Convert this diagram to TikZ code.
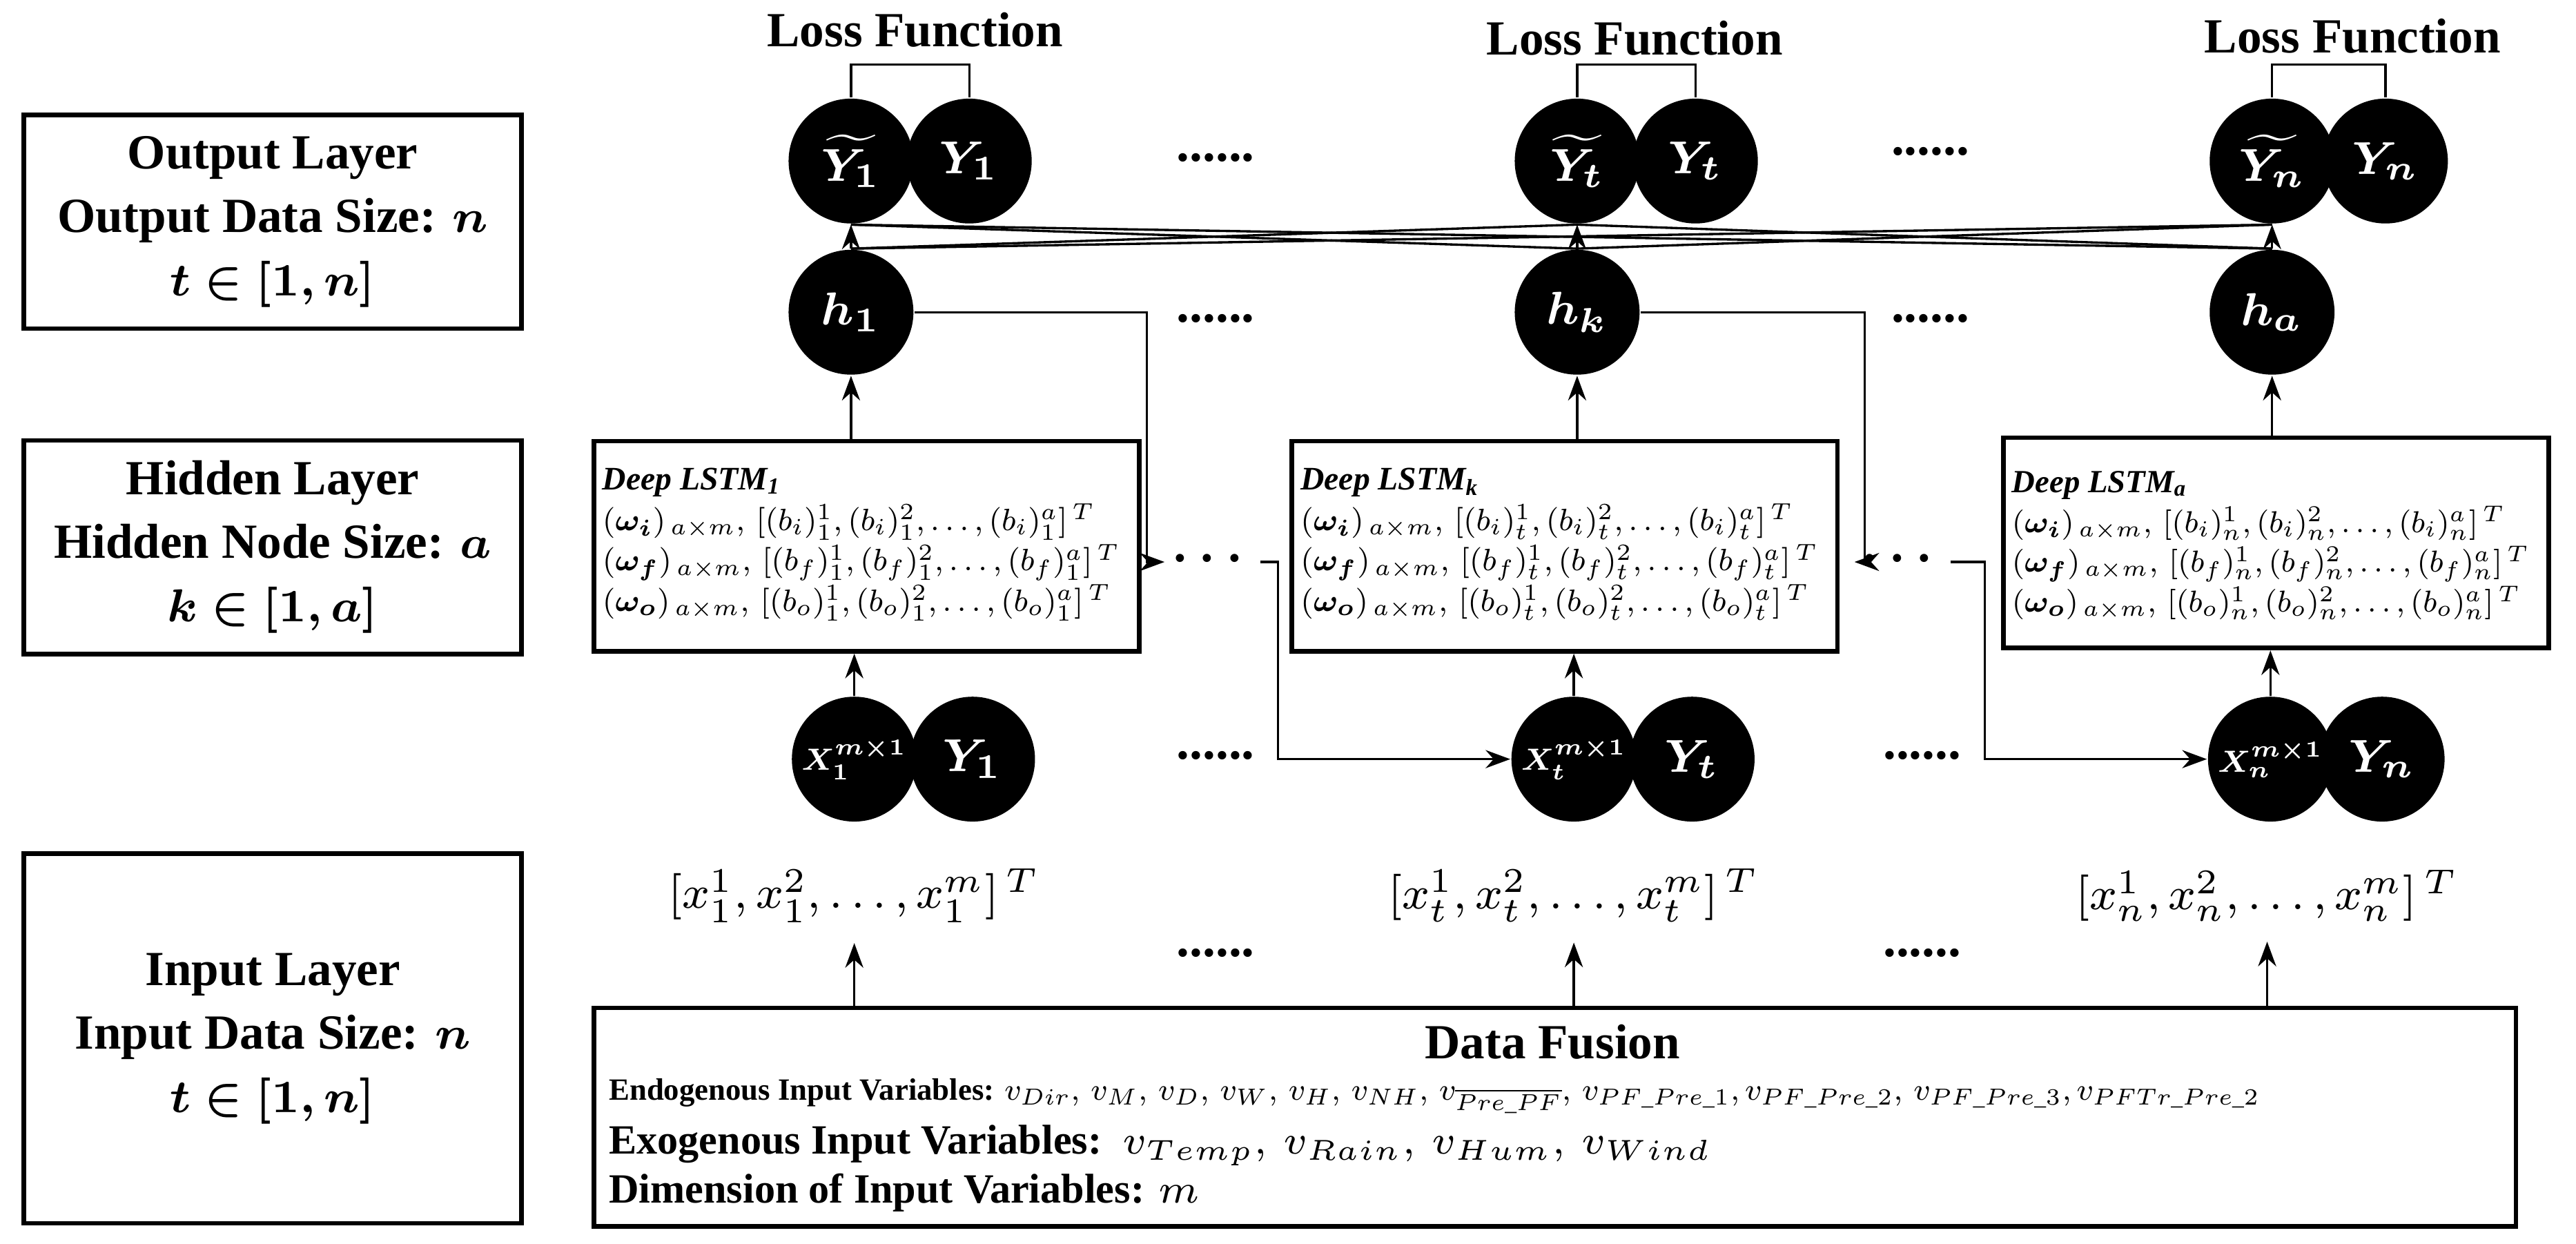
\documentclass[tikz,border=0pt]{standalone}
\usepackage{fontspec}
\usepackage{amsmath,bm,graphicx}
\setmainfont{Liberation Serif}
\usetikzlibrary{arrows.meta}
\begin{document}
\begin{tikzpicture}[x=0.1mm,y=-0.1mm,
  every node/.style={font=\fontsize{8.5}{10.5}\selectfont},
  neu/.style={circle,fill=black,text=white,minimum size=7.6mm,inner sep=0pt,font=\fontsize{8}{9}\selectfont},
  lay/.style={draw,thick,align=center,font=\fontsize{8.5}{11}\selectfont\bfseries},
  lstm/.style={draw,thick,anchor=north west,inner sep=0pt,minimum width=33.2mm,minimum height=12.8mm,font=\fontsize{8}{12}\selectfont},
  arr/.style={-{Stealth[length=1.5mm,width=1.1mm]},thin},
  ln/.style={thin},
  dots/.style={font=\fontsize{9}{11}\selectfont\bfseries}]
\path[use as bounding box] (0,0) rectangle (1568,757);
% left layer boxes
\node[lay,minimum width=30.3mm,minimum height=13mm] (OL) at (166,135) {Output Layer\\Output Data Size: $\bm{n}$\\$\bm{t\in[1,n]}$};
\node[lay,minimum width=30.3mm,minimum height=13mm] (HL) at (166,333) {Hidden Layer\\Hidden Node Size: $\bm{a}$\\$\bm{k\in[1,a]}$};
\node[lay,minimum width=30.3mm,minimum height=22.5mm] (IL) at (166,632) {Input Layer\\Input Data Size: $\bm{n}$\\$\bm{t\in[1,n]}$};
% output row
\node[neu] (O1) at (518,98) {$\widetilde{\bm{Y}_{\bm 1}}$};
\node[neu] (Y1) at (590,98) {$\bm{Y_1}$};
\node[neu] (Ot) at (960,98) {$\widetilde{\bm{Y}_{\bm t}}$};
\node[neu] (Yt) at (1032,98) {$\bm{Y_t}$};
\node[neu] (On) at (1383,98) {$\widetilde{\bm{Y}_{\bm n}}$};
\node[neu] (Yn) at (1452,98) {$\bm{Y_n}$};
\node[font=\fontsize{8.5}{10}\selectfont\bfseries] (L1) at (557,18) {Loss Function};
\node[font=\fontsize{8.5}{10}\selectfont\bfseries] (L2) at (995,23) {Loss Function};
\node[font=\fontsize{8.5}{10}\selectfont\bfseries] (L3) at (1432,22) {Loss Function};
\draw[ln] (O1.north) -- ++(0,-20) -| (Y1.north);
\draw[ln] (Ot.north) -- ++(0,-20) -| (Yt.north);
\draw[ln] (On.north) -- ++(0,-20) -| (Yn.north);
\node[dots] (d1) at (740,96) {......};
\node[dots] (d2) at (1175,92) {......};
% hidden row
\node[neu] (h1) at (518,190) {$\bm{h_1}$};
\node[neu] (hk) at (960,190) {$\bm{h_k}$};
\node[neu] (ha) at (1383,190) {$\bm{h_a}$};
\node[dots] (d3) at (740,194) {......};
\node[dots] (d4) at (1175,194) {......};
\foreach \h/\o in {h1/O1,hk/Ot,ha/On} \draw[arr] (\h.north) -- (\o.south);
\foreach \h/\o in {h1/Ot,h1/On,hk/O1,hk/On,ha/O1,ha/Ot} \draw[ln] (\h.north) -- (\o.south);
% LSTM boxes
\node[lstm] (B1) at (360,267) {};
\node[lstm] (B2) at (785,267) {};
\node[lstm] (B3) at (1218,265) {};
\node[anchor=north west,inner sep=0pt] (T1) at (366,280) {\resizebox{31.5mm}{!}{\begin{tabular}{@{}l@{}}\textbf{\textit{Deep LSTM\textsubscript{1}}}\\
$(\bm{\omega_i})_{\,a\times m},\,[(b_i)_1^1,(b_i)_1^2,\dots,(b_i)_1^a]^{\,T}$\\
$(\bm{\omega_f})_{\,a\times m},\,[(b_f)_1^1,(b_f)_1^2,\dots,(b_f)_1^a]^{\,T}$\\
$(\bm{\omega_o})_{\,a\times m},\,[(b_o)_1^1,(b_o)_1^2,\dots,(b_o)_1^a]^{\,T}$\end{tabular}}};
\node[anchor=north west,inner sep=0pt] (T2) at (791,280) {\resizebox{31.5mm}{!}{\begin{tabular}{@{}l@{}}\textbf{\textit{Deep LSTM\textsubscript{k}}}\\
$(\bm{\omega_i})_{\,a\times m},\,[(b_i)_t^1,(b_i)_t^2,\dots,(b_i)_t^a]^{\,T}$\\
$(\bm{\omega_f})_{\,a\times m},\,[(b_f)_t^1,(b_f)_t^2,\dots,(b_f)_t^a]^{\,T}$\\
$(\bm{\omega_o})_{\,a\times m},\,[(b_o)_t^1,(b_o)_t^2,\dots,(b_o)_t^a]^{\,T}$\end{tabular}}};
\node[anchor=north west,inner sep=0pt] (T3) at (1224,282) {\resizebox{31.5mm}{!}{\begin{tabular}{@{}l@{}}\textbf{\textit{Deep LSTM\textsubscript{a}}}\\
$(\bm{\omega_i})_{\,a\times m},\,[(b_i)_n^1,(b_i)_n^2,\dots,(b_i)_n^a]^{\,T}$\\
$(\bm{\omega_f})_{\,a\times m},\,[(b_f)_n^1,(b_f)_n^2,\dots,(b_f)_n^a]^{\,T}$\\
$(\bm{\omega_o})_{\,a\times m},\,[(b_o)_n^1,(b_o)_n^2,\dots,(b_o)_n^a]^{\,T}$\end{tabular}}};
\draw[arr] (B1.north -| h1) -- (h1.south);
\draw[arr] (B2.north -| hk) -- (hk.south);
\draw[arr] (B3.north -| ha) -- (ha.south);
% input row
\node[neu] (X1) at (520,462) {\resizebox{6.4mm}{!}{$\bm{X_1^{m\times1}}$}};
\node[neu] (Z1) at (592,462) {$\bm{Y_1}$};
\node[neu] (Xt) at (958,462) {\resizebox{6.4mm}{!}{$\bm{X_t^{m\times1}}$}};
\node[neu] (Zt) at (1030,462) {$\bm{Y_t}$};
\node[neu] (Xn) at (1382,462) {\resizebox{6.4mm}{!}{$\bm{X_n^{m\times1}}$}};
\node[neu] (Zn) at (1450,462) {$\bm{Y_n}$};
\node[dots] (d5) at (740,460) {......};
\node[dots] (d6) at (1170,460) {......};
\draw[arr] (X1.north) -- (B1.south -| X1);
\draw[arr] (Xt.north) -- (B2.south -| Xt);
\draw[arr] (Xn.north) -- (B3.south -| Xn);
% recurrent connections
\node[dots,inner sep=1pt] (r1) at (738,340) {$\bm\cdots$};
\node[dots,inner sep=1pt] (r2) at (1158,340) {$\bm\cdots$};
\draw[arr] (h1.east) -| (698,342) -- (r1.west |- 0,342);
\draw[arr] (r1.east |- 0,342) -| (778,462) -- (Xt.west);
\draw[arr] (hk.east) -| (1135,342) -- (r2.west |- 0,342);
\draw[arr] (r2.east |- 0,342) -| (1208,462) -- (Xn.west);
% vectors
\node (v1) at (520,545) {$[x_1^1,x_1^2,\dots,x_1^m]^{\,T}$};
\node (vt) at (958,545) {$[x_t^1,x_t^2,\dots,x_t^m]^{\,T}$};
\node (vn) at (1380,545) {$[x_n^1,x_n^2,\dots,x_n^m]^{\,T}$};
\node[dots] (d7) at (740,580) {......};
\node[dots] (d8) at (1170,580) {......};
% data fusion
\node[draw,thick,minimum width=117mm,minimum height=13.3mm,anchor=north west] (DF) at (360,612) {};
\node[font=\fontsize{8.5}{10}\selectfont\bfseries] (DFt) at (945,634) {Data Fusion};
\node[anchor=west,inner sep=0pt] (DF1) at (370,667) {\resizebox{100.5mm}{!}{\fontsize{8}{9}\selectfont\textbf{Endogenous Input Variables:} $v_{Dir},\,v_M,\,v_D,\,v_W,\,v_H,\,v_{NH},\,v_{\overline{Pre\_PF}},\,v_{PF\_Pre\_1},v_{PF\_Pre\_2},\,v_{PF\_Pre\_3},v_{PFTr\_Pre\_2}$}};
\node[anchor=west,inner sep=0pt,font=\fontsize{7.2}{9}\selectfont] (DF2) at (370,697) {\textbf{Exogenous Input Variables:}\ \ $v_{Temp},\,v_{Rain},\,v_{Hum},\,v_{Wind}$};
\node[anchor=west,inner sep=0pt,font=\fontsize{7.2}{9}\selectfont] (DF3) at (370,726) {\textbf{Dimension of Input Variables:} $m$};
\draw[arr] (DF.north -| v1) -- (v1.south);
\draw[arr] (DF.north -| vt) -- (vt.south);
\draw[arr] (DF.north -| vn) -- (vn.south);
\end{tikzpicture}
\end{document}
